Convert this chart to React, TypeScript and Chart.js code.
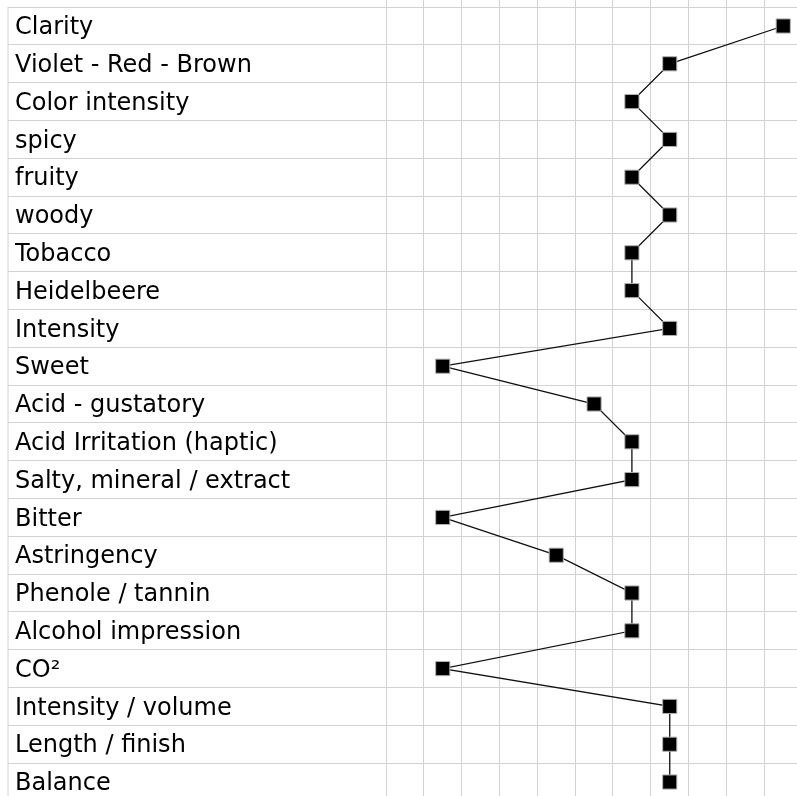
import React, { useEffect, useRef } from "react";
import { Chart, registerables } from "chart.js";

Chart.register(...registerables);

const categories = [
  "Clarity",
  "Violet - Red - Brown",
  "Color intensity",
  "spicy",
  "fruity",
  "woody",
  "Tobacco",
  "Heidelbeere",
  "Intensity",
  "Sweet",
  "Acid - gustatory",
  "Acid Irritation (haptic)",
  "Salty, mineral / extract",
  "Bitter",
  "Astringency",
  "Phenole / tannin",
  "Alcohol impression",
  "CO²",
  "Intensity / volume",
  "Length / finish",
  "Balance",
];

const scores = [11, 8, 7, 8, 7, 8, 7, 7, 8, 2, 6, 7, 7, 2, 5, 7, 7, 2, 8, 8, 8];

const xGridValues = [0.5, 1.5, 2.5, 3.5, 4.5, 5.5, 6.5, 7.5, 8.5, 9.5, 10.5];

const GRID = "#d2d2d2";
const ROW_TICK_LENGTH = 378;

const tableBorder = {
  id: "tableBorder",
  beforeDatasetsDraw(chart: any) {
    const ys = chart.scales.y;
    const ctx = chart.ctx;
    const x = ys.right - ROW_TICK_LENGTH;
    const top = ys.getPixelForValue(-0.5);
    ctx.save();
    ctx.strokeStyle = GRID;
    ctx.lineWidth = 1;
    ctx.beginPath();
    ctx.moveTo(x, top);
    ctx.lineTo(x, chart.chartArea.bottom);
    ctx.stroke();
    ctx.restore();
  },
};

export default function App() {
  const canvasRef = useRef<HTMLCanvasElement | null>(null);

  useEffect(() => {
    if (!canvasRef.current) return;
    const chart = new Chart(canvasRef.current, {
      type: "line",
      data: {
        datasets: [
          {
            data: scores.map((v, i) => ({ x: v, y: i })),
            borderColor: "#111",
            borderWidth: 1.3,
            pointStyle: "rect",
            pointRadius: 10,
            pointHoverRadius: 10,
            pointBackgroundColor: "#000",
            pointBorderColor: "#b0b0b0",
            pointBorderWidth: 1,
            tension: 0,
            fill: false,
          },
        ],
      },
      options: {
        animation: false,
        responsive: true,
        maintainAspectRatio: false,
        indexAxis: "y",
        layout: { autoPadding: false, padding: { left: 15, top: 0, right: 0, bottom: 0 } },
        plugins: {
          legend: { display: false },
          tooltip: { enabled: false },
          title: { display: false },
        },
        scales: {
          x: {
            type: "linear",
            position: "bottom",
            min: 0.5,
            max: 11.364,
            afterBuildTicks: (scale: any) => {
              scale.ticks = xGridValues.map((v) => ({ value: v }));
            },
            afterFit: (scale: any) => {
              scale.height = 0;
              scale.paddingLeft = 0;
              scale.paddingRight = 0;
            },
            ticks: { display: false },
            grid: { color: GRID, lineWidth: 1, drawTicks: false },
            border: { display: false },
          },
          y: {
            type: "linear",
            position: "left",
            reverse: true,
            min: -0.6878,
            max: 20.37,
            afterBuildTicks: (scale: any) => {
              scale.ticks = categories.map((_, i) => ({ value: i }));
            },
            afterFit: (scale: any) => {
              scale.width = 371;
              scale.paddingTop = 0;
              scale.paddingBottom = 0;
            },
            ticks: {
              autoSkip: false,
              crossAlign: "far",
              padding: 0,
              labelOffset: 2,
              color: "#000",
              font: { family: "DejaVu Sans", size: 24 },
              callback: (value: any) => categories[Number(value)] ?? "",
            },
            grid: {
              offset: true,
              color: GRID,
              lineWidth: 1,
              drawTicks: true,
              tickLength: ROW_TICK_LENGTH,
              tickColor: GRID,
            },
            border: { display: false },
          },
        },
      },
      plugins: [tableBorder],
    } as any);
    return () => chart.destroy();
  }, []);

  return (
    <div style={{ position: "fixed", left: 0, top: 0, width: 797, height: 796 }}>
      <canvas ref={canvasRef} />
    </div>
  );
}
